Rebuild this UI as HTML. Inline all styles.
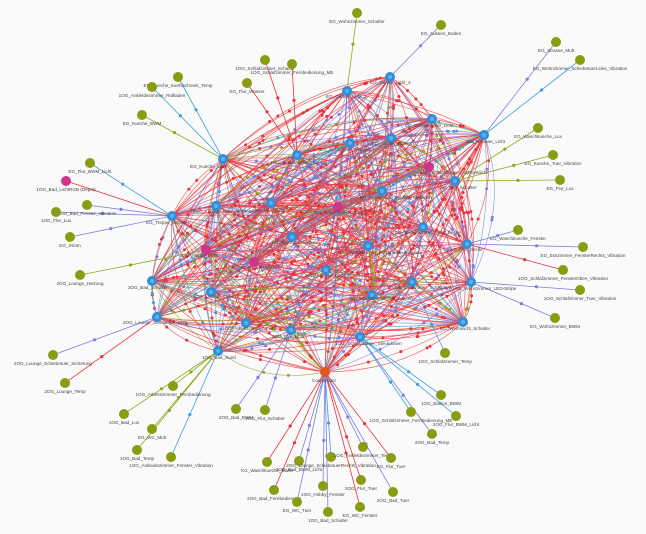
<!DOCTYPE html>
<html><head><meta charset="utf-8"><style>
html,body{margin:0;padding:0;background:#fafafa;}
svg{display:block;}
text{font-family:"Liberation Sans",sans-serif;font-size:4.6px;fill:#444;}
</style></head><body>
<svg id="g" width="646" height="534" viewBox="0 0 646 534" xmlns="http://www.w3.org/2000/svg">
<rect width="646" height="534" fill="#fafafa"/>
<g id="edges"></g>
<g id="leafedges"></g>
<g id="nodes"></g>
<g id="labels">
<text x="190" y="168">EG_Kueche_Licht</text>
<text x="270" y="164">1OG_Schlafzimmer_Kuppel</text>
<text x="326" y="98">EG_Garten_Licht_2</text>
<text x="370" y="84">EG_Garten_Licht_3</text>
<text x="405" y="127">EG_Wohnzimmer_Licht</text>
<text x="320" y="151">EG_Esszimmer_Schalter</text>
<text x="372" y="145">EG_Garten_Licht_1</text>
<text x="466" y="143">EG_Terrasse_Licht</text>
<text x="420" y="174">1OG_Schlafzimmer_Schranklicht</text>
<text x="440" y="189">EG_Flur_Schalter</text>
<text x="146" y="224">EG_Treppe_Schalter</text>
<text x="193" y="213">2OG_Lounge_Dimmer_Fl</text>
<text x="252" y="212">2OG_Flur_Licht</text>
<text x="315" y="214">EG_Waschkueche_Licht</text>
<text x="360" y="199">EG_Esszimmer_Fenster_Rollladen</text>
<text x="395" y="234">EG_Waschkueche_Licht_Decke</text>
<text x="450" y="251">EG_Flur_Decke</text>
<text x="272" y="244">KG_Hobby_Steckdose</text>
<text x="340" y="254">EG_Wohnzimmer_Steckdosen_Eingang</text>
<text x="180" y="257">2OG_Hobby_Licht</text>
<text x="232" y="269">KG_Keller_Steckdose</text>
<text x="305" y="277">2OG_Lounge_Licht</text>
<text x="128" y="289">2OG_Bad_Schalter</text>
<text x="193" y="298">2OG_Lounge_Licht</text>
<text x="350" y="300">EG_Wohnzimmer_Steckdosen</text>
<text x="395" y="289">EG_Esszimmer_Schalter_2</text>
<text x="455" y="290">EG_Wohnzimmer_LED-Stripe</text>
<text x="123" y="324">2OG_Lounge_Stehlampe_Licht</text>
<text x="222" y="330">1OG_Arbeitszimmer_Licht</text>
<text x="272" y="338">1OG_Flur_Licht</text>
<text x="335" y="345">1OG_Schlafzimmer_Steckdosen</text>
<text x="440" y="330">EG_Weihnacht_Schalter</text>
<text x="202" y="359">1OG_Bad_Sued</text>
<text x="312" y="382">Coordinator</text>
</g>
</svg>
<script>
var NS="http://www.w3.org/2000/svg";
function el(t,a,p){var e=document.createElementNS(NS,t);for(var k in a)e.setAttribute(k,a[k]);p.appendChild(e);return e;}
var s=12345;function r(){s=(s*16807)%2147483647;return (s-1)/2147483646;}
var hubs=[[223,159],[297,155],[347,91],[390,77],[432,119],[350,143],[391,138],[484,135],[455,181],[172,216],[216,206],[271,203],[382,191],[423,227],[467,244],[292,237],[368,246],[326,270],[152,281],[211,292],[412,282],[471,282],[372,295],[157,317],[246,323],[291,330],[360,337],[463,322],[218,351]];
var pinks=[[66,181],[206,250],[254,262],[338,207],[429,167]];
var coord=[325,372];
var all=hubs.concat(pinks.slice(1)).concat([coord]);
var E=document.getElementById("edges");
var cx=318,cy=240;
function col(){var x=r();return x<0.6?"#e8333a":x<0.84?"#7b7fe0":x<0.93?"#8fa81a":"#3a9ee0";}
for(var i=0;i<all.length;i++)for(var j=i+1;j<all.length;j++){
 if(r()<0.2)continue;
 var n=r()<0.45?2:1;
 for(var m=0;m<n;m++){
  var a=all[i],b=all[j];var mx=(a[0]+b[0])/2,my=(a[1]+b[1])/2;
  var dx=mx-cx,dy=my-cy;var d=Math.sqrt(dx*dx+dy*dy)+1;
  var L=Math.hypot(b[0]-a[0],b[1]-a[1]);
  var bend=(0.03+r()*0.2)*L;
  var qx=mx+dx/d*bend,qy=my+dy/d*bend;
  // clamp within ellipse
  var ex=(qx-cx)/190,ey=(qy-cy)/160,ee=Math.sqrt(ex*ex+ey*ey);
  if(ee>1.05){qx=cx+(qx-cx)/ee*1.05;qy=cy+(qy-cy)/ee*1.05;}
  var c=col();
  el("path",{d:"M"+a[0]+","+a[1]+" Q"+qx+","+qy+" "+b[0]+","+b[1],stroke:c,"stroke-width":0.7,fill:"none","stroke-opacity":0.75},E);
  for(var k=0;k<2;k++){
  var t=0.15+r()*0.7;var px=(1-t)*(1-t)*a[0]+2*t*(1-t)*qx+t*t*b[0],py=(1-t)*(1-t)*a[1]+2*t*(1-t)*qy+t*t*b[1];
  el("circle",{cx:px,cy:py,r:1.5,fill:c},E);}
 }}
var C={r:"#e8333a",p:"#7b7fe0",o:"#8fa81a",b:"#3a9ee0"};
var leaves=[
[265,60,"1OG_Schlafzimmer_Schalter",297,155,"r"],[292,64,"1OG_Schlafzimmer_Fernbedienung_ME",297,155,"r"],
[357,13,"EG_Wohnzimmer_Schalter",347,91,"o"],[441,25,"EG_Aussen_Boden",390,77,"p"],
[556,42,"EG_Strasse_Mult",484,135,"p"],[580,60,"EG_Wohnzimmer_SchiebetuerLinks_Vibration",484,135,"b"],
[178,77,"EG_Kueche_Kuehlschrank_Temp",223,159,"b"],[152,87,"1OG_Ankleidezimmer_Rollladen",223,159,"b"],
[142,115,"EG_Kueche_BWM",223,159,"o"],[247,83,"KG_Flur_Wasser",297,155,"r"],
[538,128,"EG_Waschkueche_Lux",455,181,"o"],[553,155,"EG_Kueche_Tuer_Vibration",455,181,"o"],
[560,180,"EG_Flur_Lux",455,181,"o"],[90,163,"EG_Flur_BWM_Licht",172,216,"b"],
[87,205,"1OG_Bad_Fenster_Vibration",172,216,"p"],[56,212,"1OG_Flur_Lux",172,216,"p"],
[70,237,"EG_Strom",172,216,"p"],[518,230,"EG_Waschkueche_Fenster",467,244,"p"],
[583,247,"EG_Esszimmer_FensterRechts_Vibration",467,244,"p"],[563,270,"1OG_Schlafzimmer_FensterOben_Vibration",467,244,"r"],
[580,290,"1OG_Schlafzimmer_Tuer_Vibration",471,282,"p"],[555,318,"EG_Wohnzimmer_BWM",471,282,"p"],
[80,275,"2OG_Lounge_Heizung",206,250,"o"],[53,355,"2OG_Lounge_Schiebetuer_Sicherung",157,317,"p"],
[65,383,"2OG_Lounge_Temp",157,317,"r"],[445,353,"1OG_Schlafzimmer_Temp",412,282,"b"],
[173,386,"1OG_Arbeitszimmer_Fernbedienung",218,351,"o"],[124,414,"1OG_Bad_Lux",218,351,"o"],
[152,429,"EG_WC_Mult",218,351,"o"],[137,450,"1OG_Bad_Temp",218,351,"o"],
[171,457,"1OG_Ankleidezimmer_Fenster_Vibration",218,351,"b"],[236,409,"2OG_Bad_BWM",291,330,"p"],
[265,410,"2OG_Flur_Schalter",291,330,"p"],[441,395,"1OG_Balkon_BWM",360,337,"b"],
[411,412,"1OG_Schlafzimmer_Fernbedienung_ME",360,337,"b"],[456,416,"2OG_Flur_BWM_Licht",360,337,"b"],
[432,434,"2OG_Bad_Temp",360,337,"p"],
[267,462,"KG_Waschkueche_BWM",325,372,"r"],[299,461,"2OG_Bad_BWM_Licht",325,372,"p"],
[331,457,"2OG_Lounge_SchiebetuerRechts_Vibration",325,372,"b"],[363,447,"1OG_Ankleidezimmer_Temp",325,372,"p"],
[391,458,"EG_Flur_Tuer",325,372,"r"],[274,490,"2OG_Bad_Fernbedienung",325,372,"r"],
[323,486,"2OG_Hobby_Fenster",325,372,"p"],[361,480,"2OG_Flur_Tuer",325,372,"r"],
[393,492,"2OG_Bad_Tuer",325,372,"p"],[297,502,"EG_WC_Tuer",325,372,"p"],
[328,512,"1OG_Bad_Schalter",325,372,"p"],[360,507,"EG_WC_Fenster",325,372,"r"]];
var LE=document.getElementById("leafedges"),N=document.getElementById("nodes");
leaves.forEach(function(l){var c=C[l[5]];
 el("line",{x1:l[0],y1:l[1],x2:l[3],y2:l[4],stroke:c,"stroke-width":0.8},LE);
 el("circle",{cx:l[0]*0.6+l[3]*0.4,cy:l[1]*0.6+l[4]*0.4,r:1.6,fill:c},LE);
 el("circle",{cx:l[0],cy:l[1],r:5,fill:"#8a9c12"},N);
 var t=el("text",{x:l[0],y:l[1]+10,"text-anchor":"middle"},N);t.textContent=l[2];});
el("line",{x1:66,y1:181,x2:172,y2:216,stroke:"#e8333a","stroke-width":0.8},LE);
hubs.forEach(function(h){el("circle",{cx:h[0],cy:h[1],r:5,fill:"#2f8fd8"},N);el("circle",{cx:h[0],cy:h[1],r:2,fill:"#5fb0ec"},N);});
pinks.forEach(function(h){el("circle",{cx:h[0],cy:h[1],r:5,fill:"#d0338a"},N);});
var t0=el("text",{x:66,y:191,"text-anchor":"middle"},N);t0.textContent="1OG_Bad_LichtRGB (Depot)";
el("circle",{cx:coord[0],cy:coord[1],r:5,fill:"#e0561c"},N);
</script>
</body></html>
